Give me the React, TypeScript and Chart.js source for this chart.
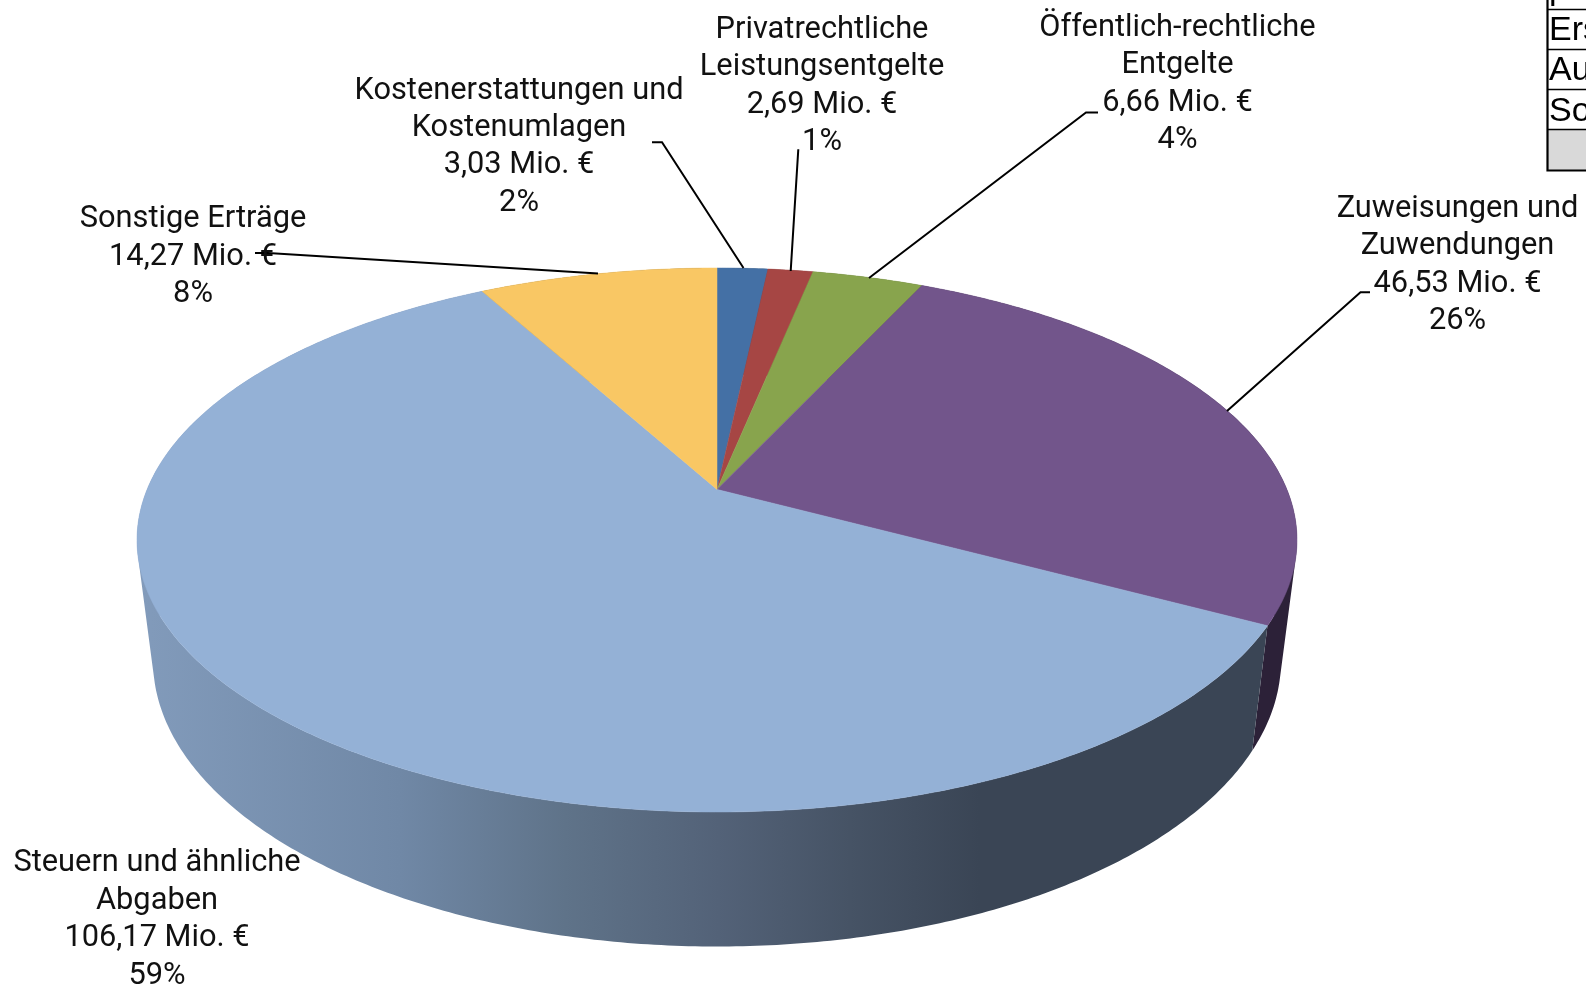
import React, { useEffect, useRef } from "react";
import { Chart, registerables } from "chart.js";

Chart.register(...registerables);

const categories = [
  "Kostenerstattungen und Kostenumlagen",
  "Privatrechtliche Leistungsentgelte",
  "Öffentlich-rechtliche Entgelte",
  "Zuweisungen und Zuwendungen",
  "Steuern und ähnliche Abgaben",
  "Sonstige Erträge",
];
const valuesMio = [3.03, 2.69, 6.66, 46.53, 106.17, 14.27];
const topColors = ["#4470A5", "#A64644", "#88A44D", "#72558B", "#94B1D6", "#F9C764"];

const labelLines = [
  ["Kostenerstattungen und", "Kostenumlagen", "3,03 Mio. €", "2%"],
  ["Privatrechtliche", "Leistungsentgelte", "2,69 Mio. €", "1%"],
  ["Öffentlich-rechtliche", "Entgelte", "6,66 Mio. €", "4%"],
  ["Zuweisungen und", "Zuwendungen", "46,53 Mio. €", "26%"],
  ["Steuern und ähnliche", "Abgaben", "106,17 Mio. €", "59%"],
  ["Sonstige Erträge", "14,27 Mio. €", "8%"],
];
const labelAnchors = [
  [519, 91],
  [822, 30.3],
  [1177.5, 28.3],
  [1457.5, 209.3],
  [157, 863.8],
  [193, 219.5],
];
const leaderLines = [
  [[652, 142.3], [662, 142.3], [743.5, 268]],
  [[798.3, 149.3], [790.7, 271]],
  [[1098, 112.5], [1086, 112.5], [869, 278]],
  [[1370, 292.3], [1360.5, 292.3], [1227, 411]],
  [],
  [[255, 253], [268, 253], [598, 273.5]],
];
const tableRows = ["p", "Ers", "Au", "So", ""];

// Geometry of the tilted disc, relative to the radius that Chart.js gives the arcs.
const TOP_RX = 580 / 447;
const TOP_RY = 272 / 447;
const BOTTOM_RX = 564 / 447;
const BOTTOM_RY = 286 / 447;
const BOTTOM_DY = 120.5 / 447;
const PERSPECTIVE = -0.186;

function disc(theta: number) {
  // Perspective map of the circle onto the ellipse: the centre moves up, the rim stays on the ellipse.
  const X = Math.sin(theta);
  const Y = -Math.cos(theta);
  const t = PERSPECTIVE;
  const d = 1 + t * Y;
  return { u: (X * Math.sqrt(1 - t * t)) / d, v: (Y + t) / d };
}

const pie3d = {
  id: "pie3d",
  beforeDatasetDraw(chart: any, args: any) {
    const ctx = chart.ctx as CanvasRenderingContext2D;
    const arcs = args.meta.data as any[];
    const R = arcs[0].outerRadius;
    const cx = arcs[0].x;
    const cy = arcs[0].y;
    const top = (th: number) => {
      const p = disc(th);
      return [cx + p.u * TOP_RX * R, cy + p.v * TOP_RY * R];
    };
    const bottom = (th: number) => {
      const p = disc(th);
      return [cx + p.u * BOTTOM_RX * R, cy + BOTTOM_DY * R + p.v * BOTTOM_RY * R];
    };
    const grad = ctx.createLinearGradient(cx - TOP_RX * R, 0, cx + 0.453 * TOP_RX * R, 0);
    grad.addColorStop(0, "#829BBB");
    grad.addColorStop(0.312, "#7088A6");
    grad.addColorStop(0.508, "#5F7389");
    grad.addColorStop(0.69, "#536278");
    grad.addColorStop(0.846, "#465365");
    grad.addColorStop(1, "#3A4555");
    const sideColors: (string | CanvasGradient)[] = ["#223854", "#532322", "#445226", "#2C2138", grad, "#7C6332"];

    arcs.forEach((arc, i) => {
      const a0 = arc.startAngle + Math.PI / 2;
      const a1 = arc.endAngle + Math.PI / 2;
      const n = Math.max(4, Math.ceil((a1 - a0) / 0.01));
      ctx.beginPath();
      // One path of equally oriented quads: no seams, and the silhouette is the true union.
      for (let k = 0; k < n; k++) {
        const s0 = a0 + ((a1 - a0) * k) / n;
        const s1 = a0 + ((a1 - a0) * (k + 1)) / n;
        let quad = [top(s0), top(s1), bottom(s1), bottom(s0)];
        let area = 0;
        quad.forEach((p, j) => {
          const q = quad[(j + 1) % 4];
          area += p[0] * q[1] - q[0] * p[1];
        });
        if (area < 0) quad = quad.reverse();
        quad.forEach((p, j) => (j ? ctx.lineTo(p[0], p[1]) : ctx.moveTo(p[0], p[1])));
        ctx.closePath();
      }
      ctx.fillStyle = sideColors[i];
      ctx.fill("nonzero");
    });

    arcs.forEach((arc, i) => {
      const a0 = arc.startAngle + Math.PI / 2;
      const a1 = arc.endAngle + Math.PI / 2;
      const n = Math.max(8, Math.ceil((a1 - a0) / 0.01));
      ctx.beginPath();
      ctx.moveTo(cx, cy + PERSPECTIVE * TOP_RY * R);
      for (let k = 0; k <= n; k++) {
        const p = top(a0 + ((a1 - a0) * k) / n);
        ctx.lineTo(p[0], p[1]);
      }
      ctx.closePath();
      ctx.fillStyle = topColors[i];
      ctx.strokeStyle = topColors[i];
      ctx.lineWidth = 0.5;
      ctx.fill();
      ctx.stroke();
    });
    return false;
  },
  afterDraw(chart: any) {
    const ctx = chart.ctx as CanvasRenderingContext2D;
    ctx.save();
    ctx.strokeStyle = "#000";
    ctx.lineWidth = 2;
    leaderLines.forEach((pts) => {
      if (!pts.length) return;
      ctx.beginPath();
      pts.forEach((p, i) => (i ? ctx.lineTo(p[0], p[1]) : ctx.moveTo(p[0], p[1])));
      ctx.stroke();
    });

    ctx.fillStyle = "#111";
    ctx.font = "30.8px Roboto";
    ctx.textAlign = "center";
    ctx.textBaseline = "middle";
    labelLines.forEach((lines, i) => {
      const [x, y] = labelAnchors[i];
      lines.forEach((line, k) => ctx.fillText(line, x, y + k * 37.4));
    });

    // Cropped table at the top right edge
    const tx = 1547.5;
    ctx.fillStyle = "#D9D9D9";
    ctx.fillRect(tx, 130, 1586 - tx, 40);
    ctx.strokeStyle = "#000";
    ctx.lineWidth = 1.5;
    [9.5, 49.5, 89.5, 129.5].forEach((y) => {
      ctx.beginPath();
      ctx.moveTo(tx, y);
      ctx.lineTo(1586, y);
      ctx.stroke();
    });
    ctx.lineWidth = 2.2;
    ctx.beginPath();
    ctx.moveTo(tx, -2);
    ctx.lineTo(tx, 170.5);
    ctx.lineTo(1588, 170.5);
    ctx.stroke();
    ctx.fillStyle = "#000";
    ctx.font = "34px 'Liberation Sans'";
    ctx.textAlign = "left";
    ctx.textBaseline = "alphabetic";
    tableRows.forEach((t, i) => ctx.fillText(t, 1549, -1 + i * 40.5));
    ctx.restore();
  },
};

export default function App() {
  const ref = useRef<HTMLCanvasElement>(null);
  useEffect(() => {
    document.body.style.margin = "0";
    document.body.style.background = "#fff";
    const chart = new Chart(ref.current!, {
      type: "pie",
      data: {
        labels: categories,
        datasets: [{ data: valuesMio, backgroundColor: topColors, borderWidth: 0 }],
      },
      options: {
        animation: false,
        responsive: false,
        devicePixelRatio: 1,
        layout: { padding: { left: 0, right: 152, top: 93, bottom: 0 } },
        plugins: { legend: { display: false }, tooltip: { enabled: false } },
      },
      plugins: [pie3d],
    });
    return () => chart.destroy();
  }, []);
  return <canvas ref={ref} width={1586} height={987} style={{ display: "block" }} />;
}
